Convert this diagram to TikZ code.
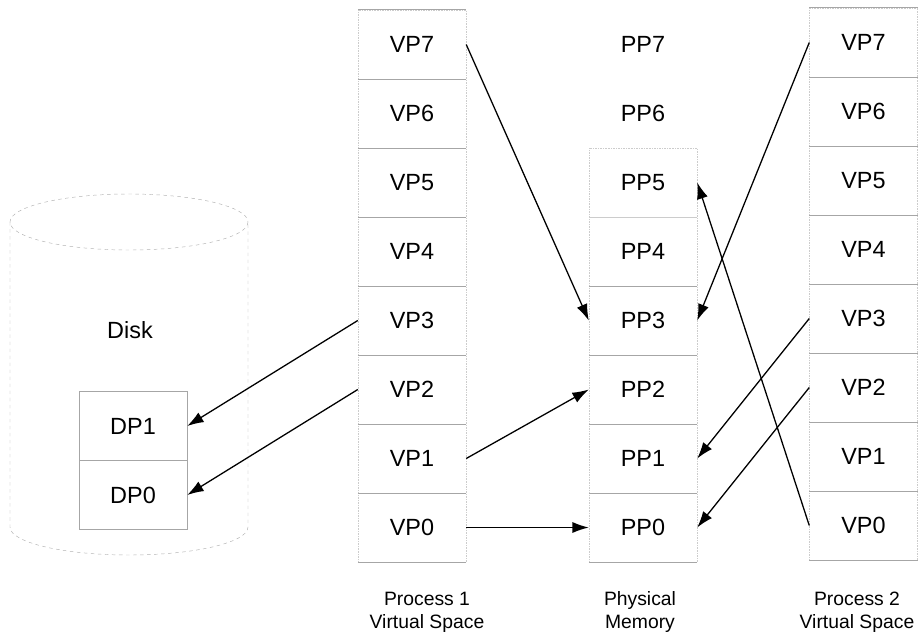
\documentclass[tikz,border=0pt]{standalone}
\usepackage{fontspec}
\setmainfont{Liberation Sans}
\usetikzlibrary{arrows.meta}

\begin{document}
\begin{tikzpicture}[x=0.03cm,y=-0.03cm,
  cell/.style={minimum width=3.24cm,minimum height=2.07cm,inner sep=0pt,
    font=\fontsize{20}{24}\selectfont},
  frame/.style={draw=gray!40,densely dotted},
  sep/.style={gray!70,line width=0.6pt},
  map/.style={-{Latex[length=14pt,width=9.5pt]},line width=1.1pt},
  caption/.style={align=center,font=\fontsize{16.5}{19.5}\selectfont}]
\useasboundingbox (0,0) rectangle (919,634);

% Disk cylinder
\draw[gray!60,dashed] (129,222) ellipse [x radius=119,y radius=28];
\draw[gray!60,dashed] (10,222) -- (10,527)
  arc[start angle=180,end angle=0,x radius=119,y radius=28] -- (248,222);
\node[cell] (disk) at (130,330) {Disk};

% Disk pages
\node[cell,draw=gray!70] (dp1) at (133,426) {DP1};
\node[cell,draw=gray!70] (dp0) at (133,495) {DP0};

% Process 1 virtual space
\node[cell,frame] (p1v7) at (412,44.5) {VP7};
\node[cell,frame] (p1v6) at (412,113.5) {VP6};
\node[cell,frame] (p1v5) at (412,182.5) {VP5};
\node[cell,frame] (p1v4) at (412,251.5) {VP4};
\node[cell,frame] (p1v3) at (412,320.5) {VP3};
\node[cell,frame] (p1v2) at (412,389.5) {VP2};
\node[cell,frame] (p1v1) at (412,458.5) {VP1};
\node[cell,frame] (p1v0) at (412,527.5) {VP0};

% Physical memory
\node[cell] (pp7) at (643,44.5) {PP7};
\node[cell] (pp6) at (643,113.5) {PP6};
\node[cell,frame] (pp5) at (643,182.5) {PP5};
\node[cell,frame] (pp4) at (643,251.5) {PP4};
\node[cell,frame] (pp3) at (643,320.5) {PP3};
\node[cell,frame] (pp2) at (643,389.5) {PP2};
\node[cell,frame] (pp1) at (643,458.5) {PP1};
\node[cell,frame] (pp0) at (643,527.5) {PP0};

% Process 2 virtual space
\node[cell,frame] (p2v7) at (863.5,42.5) {VP7};
\node[cell,frame] (p2v6) at (863.5,111.5) {VP6};
\node[cell,frame] (p2v5) at (863.5,180.5) {VP5};
\node[cell,frame] (p2v4) at (863.5,249.5) {VP4};
\node[cell,frame] (p2v3) at (863.5,318.5) {VP3};
\node[cell,frame] (p2v2) at (863.5,387.5) {VP2};
\node[cell,frame] (p2v1) at (863.5,456.5) {VP1};
\node[cell,frame] (p2v0) at (863.5,525.5) {VP0};

% Separators
\foreach \n in {p1v,p2v}
  \foreach \i in {0,...,7}
    \draw[sep] (\n\i.south west) -- (\n\i.south east);
\foreach \i in {0,...,4}
  \draw[sep] (pp\i.south west) -- (pp\i.south east);
\draw[sep] (p1v7.north west) -- (p1v7.north east);
\draw[sep] (p2v7.north west) -- (p2v7.north east);

% Captions
\node[caption] (cap1) at (427,612) {Process 1\\Virtual Space};
\node[caption] (cap2) at (640,612) {Physical\\Memory};
\node[caption] (cap3) at (857,612) {Process 2\\Virtual Space};

% Mappings of process 1
\draw[map] (p1v7.east) -- (pp3.west);
\draw[map] (p1v3.west) -- (dp1.east);
\draw[map] (p1v2.west) -- (dp0.east);
\draw[map] (p1v1.east) -- (pp2.west);
\draw[map] (p1v0.east) -- (pp0.west);

% Mappings of process 2
\draw[map] (p2v7.west) -- (pp3.east);
\draw[map] (p2v0.west) -- (pp5.east);
\draw[map] (p2v3.west) -- (pp1.east);
\draw[map] (p2v2.west) -- (pp0.east);

\end{tikzpicture}
\end{document}
